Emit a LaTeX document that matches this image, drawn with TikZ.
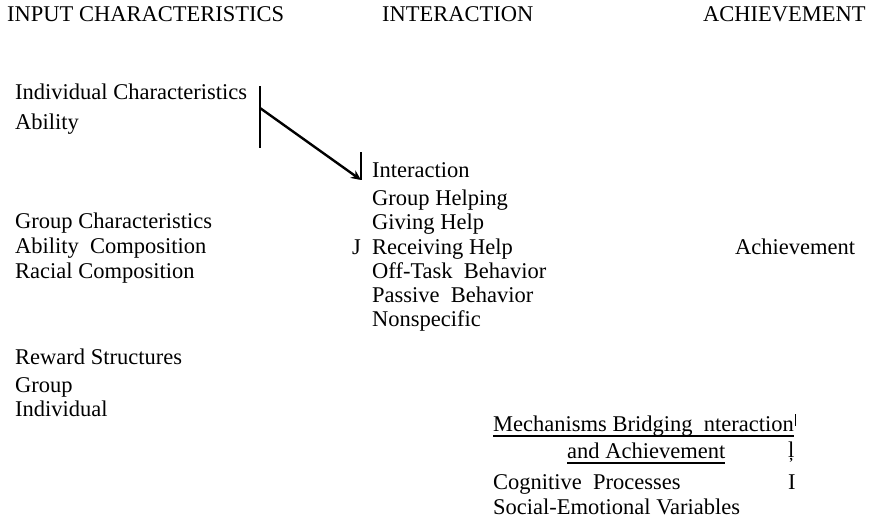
\documentclass[tikz,border=0pt]{standalone}
\usepackage{fontspec}
\setmainfont{Liberation Serif}
\usetikzlibrary{arrows.meta}
\begin{document}
\begin{tikzpicture}[x=1pt,y=-1pt,
  txt/.style={anchor=base west, inner sep=0pt, font=\fontsize{22.5}{25}\selectfont},
  bar/.style={line width=2.4pt},
  uline/.style={line width=1.4pt}]
\useasboundingbox[fill=white] (0,0) rectangle (869,519);
% headings
\node[txt] (hin)  at (7,22)   {INPUT CHARACTERISTICS};
\node[txt] (hint) at (382,22) {INTERACTION};
\node[txt] (hach) at (703,22) {ACHIEVEMENT};
% input characteristics
\node[txt] (indc) at (15,99)  {Individual Characteristics};
\node[txt] (abil) at (15,129) {Ability};
\node[txt] (grpc) at (15,228) {Group Characteristics};
\node[txt] (abco) at (15,253) {Ability\ \ Composition};
\node[txt] (raco) at (15,278) {Racial Composition};
\node[txt] (rews) at (15,364) {Reward Structures};
\node[txt] (rgrp) at (15,392) {Group};
\node[txt] (rind) at (15,416) {Individual};
% interaction
\node[txt] (inter) at (372,177) {Interaction};
\node[txt] (ghelp) at (372,205) {Group\ Helping};
\node[txt] (give)  at (372,229) {Giving\ Help};
\node[txt] (recv)  at (372,254) {Receiving\ Help};
\node[txt] (jmark) at (352,254) {J};
\node[txt] (offt)  at (372,278) {Off-Task\ \ Behavior};
\node[txt] (pass)  at (372,302) {Passive\ \ Behavior};
\node[txt] (nons)  at (372,326) {Nonspecific};
% achievement
\node[txt] (ach) at (735,254) {Achievement};
% mechanisms
\node[txt] (mech1) at (493,431) {Mechanisms\ Bridging\ \ nteraction};
\node[txt] (mech2) at (567,458) {and\ Achievement};
\node[txt] (cogp)  at (493,489) {Cognitive\ \ Processes};
\node[txt] (imark) at (788,489) {I};
\node[txt] (soce)  at (493,514) {Social-Emotional\ Variables};
\node[txt] (lmark) at (788,457) {ļ};
\draw[uline] ([yshift=-5pt]mech1.base west) -- ([yshift=-5pt]mech1.base east);
\draw[uline] ([yshift=-5pt]mech2.base west) -- ([yshift=-5pt]mech2.base east);
\coordinate (mk1) at (795,414);
\coordinate (mk2) at (795,426);
\draw[line width=0.8pt] (mk1) -- (mk2);
% connectors
\coordinate (bt) at (260,86);
\coordinate (bb) at (260,148);
\coordinate (bm) at (260,108);
\coordinate (at) at (361,152);
\coordinate (ab) at (361,180);
\draw[bar] (bt) -- (bb);
\draw[bar, -{Stealth[length=10pt,width=9pt]}] (bm) -- (ab);
\draw[line width=1.6pt] (at) -- (ab);
\end{tikzpicture}
\end{document}
